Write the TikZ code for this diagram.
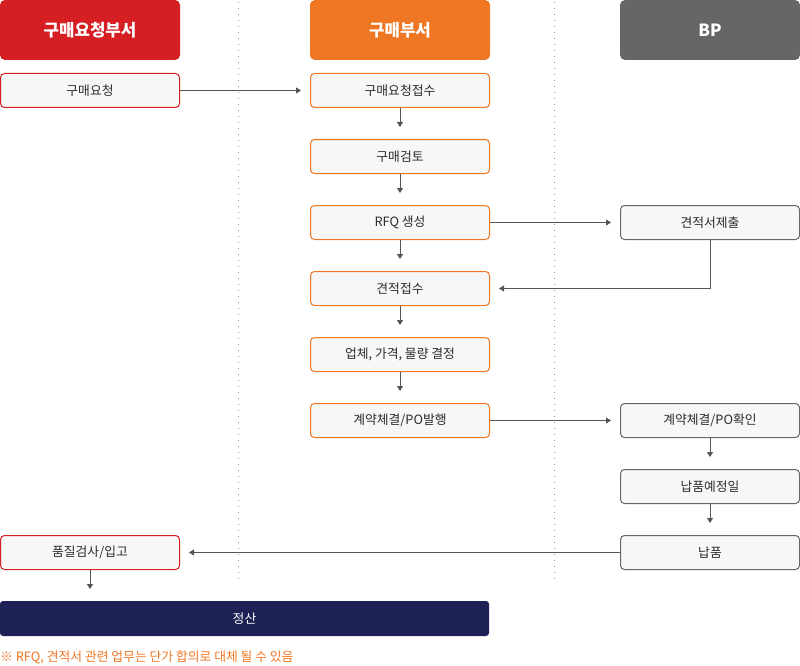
\documentclass[tikz,border=0pt]{standalone}
\usepackage{fontspec}
\setmainfont{Noto Sans CJK KR}
\usetikzlibrary{arrows.meta}
\definecolor{cred}{HTML}{D51F22}
\definecolor{corange}{HTML}{EF7622}
\definecolor{cgray}{HTML}{666666}
\definecolor{cnavy}{HTML}{1E2156}
\definecolor{cfill}{HTML}{F7F7F7}
\definecolor{ctext}{HTML}{2A2A2A}
\definecolor{carrow}{HTML}{555555}
\definecolor{cdot}{HTML}{999999}
\begin{document}
\begin{tikzpicture}[x=1pt,y=-1pt,
 hdr/.style={rounded corners=5pt, minimum width=180pt, minimum height=60pt, text=white, font=\fontsize{16.8}{19}\selectfont\bfseries, inner sep=0pt, outer sep=0pt},
 box/.style={draw, fill=cfill, rounded corners=4pt, minimum width=179pt, minimum height=34pt, text=ctext, font=\fontsize{12.8}{15}\selectfont, inner sep=0pt, outer sep=0.5pt, line width=1pt},
 rbox/.style={box, draw=cred},
 obox/.style={box, draw=corange},
 gbox/.style={box, draw=cgray},
 arr/.style={draw=carrow, line width=0.9pt, -{Triangle[length=5pt,width=6pt]}},
 sep/.style={draw=cdot, line width=1pt, dash pattern=on 1pt off 5pt}]
\useasboundingbox (0,0) rectangle (800,666);
% separators
\draw[sep] (238.5,2) -- (238.5,580);
\draw[sep] (554.5,2) -- (554.5,580);
% headers
\node[hdr, fill=cred] (h1) at (90,30) {구매요청부서};
\node[hdr, fill=corange] (h2) at (400,30) {구매부서};
\node[hdr, fill=cgray] (h3) at (710,30) {BP};
% boxes
\node[rbox] (a1) at (90,90.5) {구매요청};
\node[obox] (b1) at (400,90.5) {구매요청접수};
\node[obox] (b2) at (400,156.5) {구매검토};
\node[obox] (b3) at (400,222.5) {RFQ 생성};
\node[gbox] (c1) at (710,222.5) {견적서제출};
\node[obox] (b4) at (400,288.5) {견적접수};
\node[obox] (b5) at (400,354.5) {업체, 가격, 물량 결정};
\node[obox] (b6) at (400,420.5) {계약체결/PO발행};
\node[gbox] (c2) at (710,420.5) {계약체결/PO확인};
\node[gbox] (c3) at (710,486.5) {납품예정일};
\node[gbox] (c4) at (710,552.5) {납품};
\node[rbox] (a2) at (90,552.5) {품질검사/입고};
\node[fill=cnavy, rounded corners=3pt, minimum width=489pt, minimum height=35pt, inner sep=0pt, outer sep=0pt, text=white, font=\fontsize{12.8}{15}\selectfont] (s) at (244.5,618.5) {정산};
\node[anchor=west, inner sep=0pt, text=corange, font=\fontsize{12.8}{15}\selectfont] (note) at (0,657) {※ RFQ, 견적서 관련 업무는 단가 합의로 대체 될 수 있음};
% arrows
\draw[arr] (a1.east) -- ([xshift=-9pt]b1.west);
\draw[arr] (b1.south) -- ++(0,19);
\draw[arr] (b2.south) -- ++(0,19);
\draw[arr] (b3.south) -- ++(0,19);
\draw[arr] (b4.south) -- ++(0,19);
\draw[arr] (b5.south) -- ++(0,19);
\draw[arr] (b3.east) -- ([xshift=-9pt]c1.west);
\draw[arr] (c1.south) |- ([xshift=9pt]b4.east);
\draw[arr] (b6.east) -- ([xshift=-9pt]c2.west);
\draw[arr] (c2.south) -- ++(0,19);
\draw[arr] (c3.south) -- ++(0,19);
\draw[arr] (c4.west) -- ([xshift=9pt]a2.east);
\draw[arr] (a2.south) -- ++(0,19);
\end{tikzpicture}
\end{document}
